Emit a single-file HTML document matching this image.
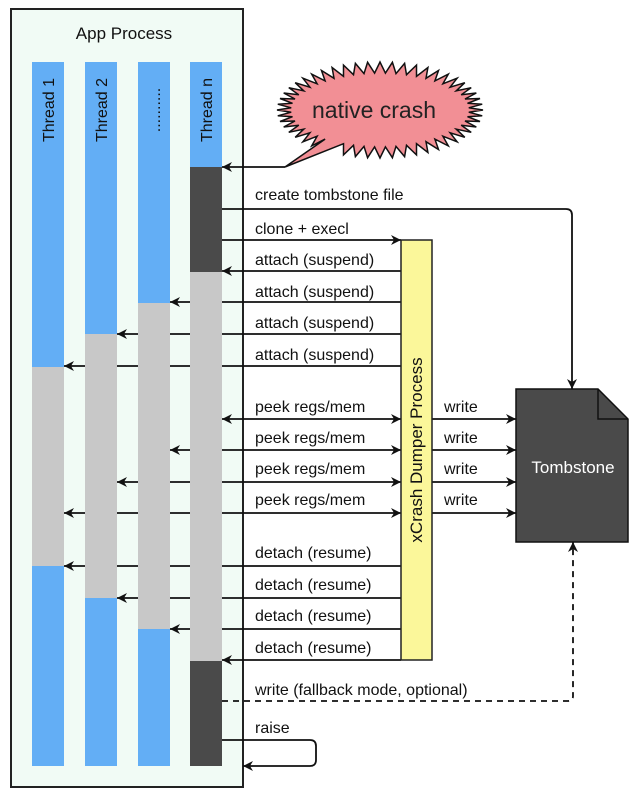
<!DOCTYPE html>
<html><head><meta charset="utf-8"><style>
html,body{margin:0;padding:0;background:#fff;}
svg{display:block;font-family:"Liberation Sans",Arial,sans-serif;}
</style></head><body>
<svg id="s" width="640" height="797" viewBox="0 0 640 797" xmlns="http://www.w3.org/2000/svg">
<defs>
<marker id="a" viewBox="0 0 10 10" refX="10" refY="5" markerWidth="10" markerHeight="10" markerUnits="userSpaceOnUse" orient="auto-start-reverse"><path d="M0,0 L10,5 L0,10 L3,5 z" fill="#111"/></marker>
</defs>
<rect x="11" y="9" width="232" height="778" fill="#f1fbf5" stroke="#222" stroke-width="2"/>
<text x="124" y="39" font-size="17" text-anchor="middle" fill="#111">App Process</text>

<g stroke="#111" stroke-width="1.8" fill="none">
<line x1="285" y1="167" x2="222" y2="167" marker-end="url(#a)"/>
<path d="M222,209 H566 Q572,209 572,215 V389" marker-end="url(#a)"/>
<line x1="222" y1="240" x2="401" y2="240" marker-end="url(#a)"/>
<line x1="401" y1="271" x2="222" y2="271" marker-end="url(#a)"/>
<line x1="401" y1="302" x2="170" y2="302" marker-end="url(#a)"/>
<line x1="401" y1="334" x2="117" y2="334" marker-end="url(#a)"/>
<line x1="401" y1="366" x2="64" y2="366" marker-end="url(#a)"/>
<line x1="222" y1="419" x2="401" y2="419" marker-start="url(#a)" marker-end="url(#a)"/>
<line x1="222" y1="450" x2="401" y2="450" marker-end="url(#a)"/>
<line x1="222" y1="450" x2="170" y2="450" marker-end="url(#a)"/>
<line x1="222" y1="482" x2="401" y2="482" marker-end="url(#a)"/>
<line x1="222" y1="482" x2="117" y2="482" marker-end="url(#a)"/>
<line x1="222" y1="513" x2="401" y2="513" marker-end="url(#a)"/>
<line x1="222" y1="513" x2="64" y2="513" marker-end="url(#a)"/>
<line x1="432" y1="419" x2="516" y2="419" marker-end="url(#a)"/>
<line x1="432" y1="450" x2="516" y2="450" marker-end="url(#a)"/>
<line x1="432" y1="482" x2="516" y2="482" marker-end="url(#a)"/>
<line x1="432" y1="513" x2="516" y2="513" marker-end="url(#a)"/>
<line x1="401" y1="566" x2="64" y2="566" marker-end="url(#a)"/>
<line x1="401" y1="598" x2="117" y2="598" marker-end="url(#a)"/>
<line x1="401" y1="629" x2="170" y2="629" marker-end="url(#a)"/>
<line x1="401" y1="660" x2="222" y2="660" marker-end="url(#a)"/>
<path d="M222,701 H568 Q573,701 573,696 V542" stroke-dasharray="6,5" marker-end="url(#a)"/>
<path d="M222,740 H310 Q316,740 316,746 V760 Q316,766 310,766 H243" marker-end="url(#a)"/>
</g>

<rect x="32" y="62" width="32" height="305" fill="#63aef5"/>
<rect x="32" y="367" width="32" height="199" fill="#c8c8c8"/>
<rect x="32" y="566" width="32" height="200" fill="#63aef5"/>
<rect x="85" y="62" width="32" height="272" fill="#63aef5"/>
<rect x="85" y="334" width="32" height="264" fill="#c8c8c8"/>
<rect x="85" y="598" width="32" height="168" fill="#63aef5"/>
<rect x="138" y="62" width="32" height="241" fill="#63aef5"/>
<rect x="138" y="303" width="32" height="326" fill="#c8c8c8"/>
<rect x="138" y="629" width="32" height="137" fill="#63aef5"/>
<rect x="190" y="62" width="32" height="105" fill="#63aef5"/>
<rect x="190" y="167" width="32" height="105" fill="#4a4a4a"/>
<rect x="190" y="272" width="32" height="389" fill="#c8c8c8"/>
<rect x="190" y="661" width="32" height="105" fill="#4a4a4a"/>
<g font-size="16" fill="#111">
<text transform="translate(54,110) rotate(-90)" text-anchor="middle">Thread 1</text>
<text transform="translate(107,110) rotate(-90)" text-anchor="middle">Thread 2</text>
<text transform="translate(160,110) rotate(-90)" text-anchor="middle">..........</text>
<text transform="translate(212,110) rotate(-90)" text-anchor="middle">Thread n</text>
</g>

<rect x="401" y="240" width="31" height="420" fill="#fbf79a" stroke="#222" stroke-width="1.5"/>
<text transform="translate(422,450) rotate(-90)" text-anchor="middle" font-size="17" fill="#111">xCrash Dumper Process</text>

<path d="M516,389 H598 L628,419 V542 H516 Z" fill="#4a4a4a" stroke="#111" stroke-width="1.5"/>
<path d="M598,389 V419 H628" fill="none" stroke="#111" stroke-width="1.5"/>
<text x="573" y="473" text-anchor="middle" font-size="17" fill="#fff">Tombstone</text>

<polygon id="bub" fill="#f28f95" stroke="#111" stroke-width="1.5"/>
<text x="374" y="118" text-anchor="middle" font-size="23" fill="#222">native crash</text>

<g font-size="16" fill="#111">
<text x="255" y="200">create tombstone file</text>
<text x="255" y="234">clone + execl</text>
<text x="255" y="265">attach (suspend)</text>
<text x="255" y="297">attach (suspend)</text>
<text x="255" y="328">attach (suspend)</text>
<text x="255" y="360">attach (suspend)</text>
<text x="255" y="412">peek regs/mem</text>
<text x="255" y="443">peek regs/mem</text>
<text x="255" y="474">peek regs/mem</text>
<text x="255" y="505">peek regs/mem</text>
<text x="444" y="412">write</text>
<text x="444" y="443">write</text>
<text x="444" y="474">write</text>
<text x="444" y="505">write</text>
<text x="255" y="558">detach (resume)</text>
<text x="255" y="590">detach (resume)</text>
<text x="255" y="621">detach (resume)</text>
<text x="255" y="653">detach (resume)</text>
<text x="255" y="695">write (fallback mode, optional)</text>
<text x="255" y="733">raise</text>
</g>
</svg>
<script>
(function(){
var cx=380,cy=110,N=52,pts=[],tail=false;
for(var i=0;i<N*2;i++){
 var t=i/(N*2)*2*Math.PI;
 var deg=t*180/Math.PI;
 if(deg>116&&deg<128){ if(!tail){pts.push("285,167");tail=true;} continue;}
 var o=(i%2==0);
 var rx=o?103:89, ry=o?48:37;
 pts.push((cx+rx*Math.cos(t)).toFixed(1)+","+(cy+ry*Math.sin(t)).toFixed(1));
}
document.getElementById("bub").setAttribute("points",pts.join(" "));
})();
</script>
</body></html>
